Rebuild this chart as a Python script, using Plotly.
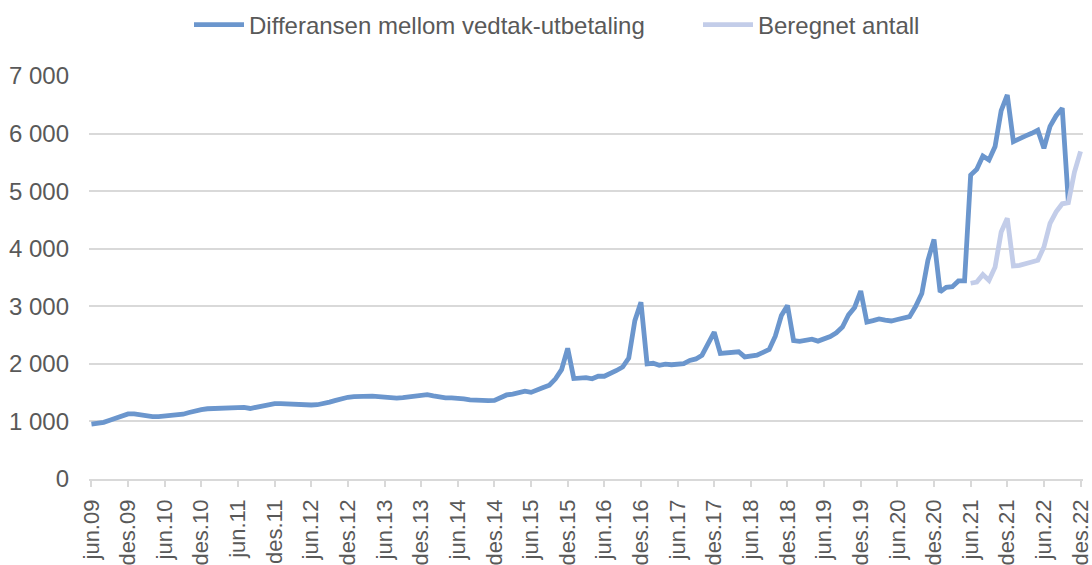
import plotly.graph_objects as go

# Month categories jun.09 .. des.22
month_abbr = ["jan", "feb", "mar", "apr", "mai", "jun", "jul", "aug", "sep", "okt", "nov", "des"]
months = []
for year in range(2009, 2023):
    for m in range(12):
        if year == 2009 and m < 5:
            continue
        months.append(f"{month_abbr[m]}.{str(year)[2:]}")

tick_labels = months[::6]

differanse = [
    955, 965, 985, 1020, 1055, 1090, 1130, 1130, 1110, 1090,
    1085, 1085, 1090, 1100, 1110, 1125, 1155, 1185, 1205, 1220,
    1225, 1220, 1215, 1225, 1240, 1245, 1225, 1245, 1280, 1305,
    1310, 1310, 1305, 1290, 1275, 1280, 1285, 1290, 1305, 1335,
    1365, 1395, 1420, 1430, 1440, 1440, 1440, 1430, 1415, 1405,
    1405, 1415, 1430, 1450, 1465, 1465, 1445, 1425, 1410, 1408,
    1405, 1390, 1375, 1365, 1360, 1360, 1365, 1420, 1460, 1475,
    1490, 1525, 1505, 1555, 1590, 1630, 1740, 1900, 2270, 1745,
    1755, 1760, 1740, 1785, 1785, 1825, 1885, 1945, 2100, 2750,
    3070, 2000, 2010, 1975, 1995, 1985, 1990, 2005, 2060, 2085,
    2150, 2330, 2550, 2180, 2185, 2195, 2210, 2120, 2125, 2150,
    2200, 2250, 2480, 2840, 3015, 2405, 2390, 2405, 2430, 2395,
    2430, 2475, 2540, 2640, 2850, 2980, 3265, 2725, 2750, 2780,
    2760, 2745, 2770, 2795, 2820, 3000, 3220, 3800, 4160, 3250,
    3330, 3340, 3440, 3440, 5280, 5380, 5610, 5540, 5775, 6400,
    6670, 5860, 5920, 5960, 6005, 6060, 5745, 6125, 6310, 6440,
    4815,
]

beregnet_start = "jun.21"
beregnet = [
    3400, 3420, 3550, 3450, 3680, 4290, 4530, 3700, 3710, 3730,
    3770, 3800, 4030, 4440, 4640, 4780, 4800, 5330, 5690,
]

start_idx = months.index(beregnet_start)
beregnet_x = months[start_idx:start_idx + len(beregnet)]

font_family = "Liberation Sans, Arial, sans-serif"
text_color = "#595959"
grid_color = "#d9d9d9"

fig = go.Figure()
fig.add_trace(go.Scatter(
    x=months[:len(differanse)], y=differanse, mode="lines",
    name="Differansen mellom vedtak-utbetaling",
    line=dict(color="#6B96CD", width=4.8),
    legend="legend",
))
fig.add_trace(go.Scatter(
    x=beregnet_x, y=beregnet, mode="lines",
    name="Beregnet antall",
    line=dict(color="#C3CDE9", width=4.8),
    legend="legend2",
))

legend_common = dict(
    orientation="h", xanchor="left", xref="container",
    y=1 - 25 / 565, yanchor="middle", yref="container",
    font=dict(size=24, color=text_color),
    itemwidth=50, bgcolor="rgba(0,0,0,0)",
)

fig.update_layout(
    width=1092, height=565,
    margin=dict(l=89, r=9, t=76, b=86, autoexpand=False),
    paper_bgcolor="white", plot_bgcolor="white",
    font=dict(family=font_family, color=text_color, size=22),
    separators=", ",
    showlegend=True,
    legend=dict(x=189 / 1092, **legend_common),
    legend2=dict(x=698 / 1092, **legend_common),
    xaxis=dict(
        type="category", categoryorder="array", categoryarray=months,
        range=[-0.4, len(months) - 1 + 0.4],
        tickmode="array", tickvals=tick_labels, ticktext=tick_labels,
        tickangle=-90, tickfont=dict(size=22, color=text_color),
        ticks="outside", ticklen=6, tickwidth=1.5, tickcolor=grid_color,
        ticklabelstandoff=4,
        showgrid=False, showline=True, linecolor=grid_color, linewidth=1.5,
        zeroline=False,
    ),
    yaxis=dict(
        range=[0, 7000], dtick=1000, tickformat=",d",
        tickfont=dict(size=24, color=text_color),
        showgrid=True, gridcolor=grid_color, gridwidth=1.5,
        zeroline=False, showline=False, ticks="",
        ticklabelstandoff=19,
    ),
)

fig.write_html(
    "out.html",
    config={"displayModeBar": False},
    post_script="document.body.style.margin='0';document.body.style.padding='0';",
)
